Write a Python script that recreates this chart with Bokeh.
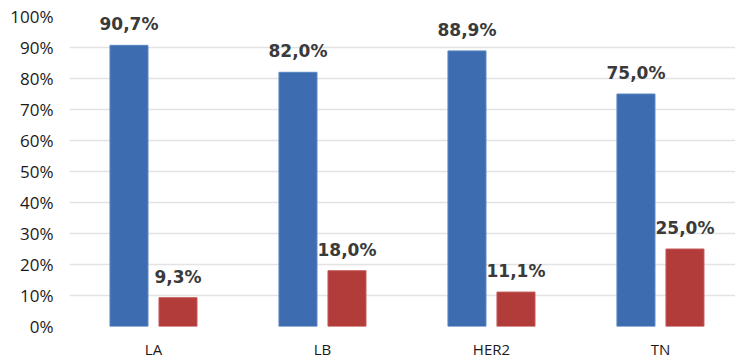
from bokeh.plotting import figure
from bokeh.models import Range1d, FixedTicker, ColumnDataSource
from bokeh.core.properties import value
from bokeh.embed import file_html
from bokeh.resources import INLINE

categories = ["LA", "LB", "HER2", "TN"]
series_a = [90.7, 82.0, 88.9, 75.0]
series_b = [9.3, 18.0, 11.1, 25.0]
labels_a = ["90,7%", "82,0%", "88,9%", "75,0%"]
labels_b = ["9,3%", "18,0%", "11,1%", "25,0%"]
y_ticks = [0, 10, 20, 30, 40, 50, 60, 70, 80, 90, 100]

BLUE = "#3d6cb0"
RED = "#b23c39"
off = 0.145
bw = 0.225

xs = list(range(len(categories)))
src_a = ColumnDataSource(dict(x=[i - off for i in xs], top=series_a, lab=labels_a))
src_b = ColumnDataSource(dict(x=[i + off for i in xs], top=series_b, lab=labels_b))

p = figure(width=735, height=361, output_backend="svg", toolbar_location=None,
           x_range=Range1d(-0.497, 3.444), y_range=Range1d(0, 100),
           min_border_left=69, min_border_right=0, min_border_top=16, min_border_bottom=35)
p.outline_line_color = None
p.background_fill_color = "white"
p.border_fill_color = "white"

p.vbar(x="x", top="top", width=bw, bottom=0, source=src_a, color=BLUE, line_color="#5a86c4", line_width=1)
p.vbar(x="x", top="top", width=bw, bottom=0, source=src_b, color=RED, line_color="#c45a58", line_width=1)

for src in (src_a, src_b):
    p.text(x="x", y="top", text="lab", source=src, text_align="center", text_baseline="bottom",
           y_offset=-11, text_font=value("DejaVu Sans"), text_font_style="bold",
           text_font_size="17px", text_color="#3a3a3a")

p.yaxis.ticker = FixedTicker(ticks=y_ticks)
p.yaxis.major_label_overrides = {t: f"{t}%" for t in y_ticks}
p.yaxis.axis_line_color = None
p.yaxis.major_tick_line_color = None
p.yaxis.minor_tick_line_color = None
p.yaxis.major_tick_out = 0
p.yaxis.major_tick_in = 0
p.yaxis.minor_tick_out = 0
p.yaxis.major_label_text_font = "Open Sans"
p.yaxis.major_label_text_font_size = "17px"
p.yaxis.major_label_text_color = "#1a1a1a"
p.yaxis.major_label_standoff = 16

p.xaxis.ticker = FixedTicker(ticks=xs)
p.xaxis.major_label_overrides = {i: c for i, c in enumerate(categories)}
p.xaxis.axis_line_color = None
p.xaxis.major_tick_line_color = None
p.xaxis.minor_tick_line_color = None
p.xaxis.major_tick_out = 0
p.xaxis.major_tick_in = 0
p.xaxis.minor_tick_out = 0
p.xaxis.major_label_text_font = "Open Sans"
p.xaxis.major_label_text_font_size = "15px"
p.xaxis.major_label_text_color = "#1a1a1a"
p.xaxis.major_label_standoff = 12

p.xgrid.grid_line_color = None
p.ygrid.grid_line_color = "#e3e3e3"
p.ygrid.grid_line_width = 1.5

open("out.html", "w").write(file_html(p, INLINE))
